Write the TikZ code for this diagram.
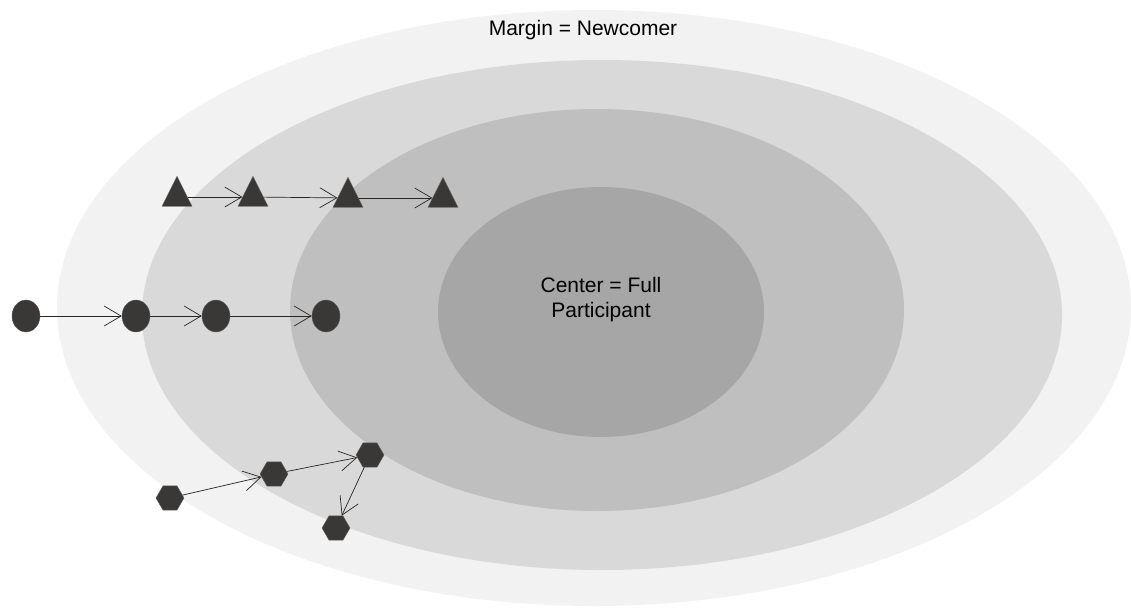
\documentclass[tikz,border=0pt]{standalone}
\usepackage{fontspec}
\setmainfont{Liberation Sans}
\usepackage{tikz}
\usetikzlibrary{arrows.meta,positioning,shapes.geometric}
\definecolor{ringmargin}{RGB}{242,242,242}
\definecolor{ringouter}{RGB}{217,217,217}
\definecolor{ringinner}{RGB}{191,191,191}
\definecolor{ringcenter}{RGB}{166,166,166}
\definecolor{member}{RGB}{58,56,54}

\begin{document}
\begin{tikzpicture}[x=1pt,y=-1pt,
  ring/.style={ellipse,draw=none,inner sep=0pt},
  label/.style={font=\fontsize{21}{25}\selectfont,align=center,text=black},
  tri/.style={isosceles triangle,isosceles triangle stretches,shape border rotate=90,
    minimum width=30pt,minimum height=30pt,inner sep=0pt,fill=member,draw=member!80},
  dot/.style={ellipse,minimum width=28pt,minimum height=32pt,inner sep=0pt,fill=member,draw=member!80},
  hex/.style={regular polygon,regular polygon sides=6,minimum size=28pt,inner sep=0pt,fill=member,draw=member!80},
  arrow/.style={-{Straight Barb[length=17pt,width=20pt]},line width=0.7pt,black!85}
]
\useasboundingbox (0,0) rectangle (1131,608);
% nested rings
\node[ring,fill=ringmargin,minimum width=1074pt,minimum height=596pt] (margin) at (594,308) {};
\node[ring,fill=ringouter,minimum width=920pt,minimum height=510pt] (outer) at (602,315) {};
\node[ring,fill=ringinner,minimum width=614pt,minimum height=402pt] (inner) at (597,310) {};
\node[ring,fill=ringcenter,minimum width=326pt,minimum height=250pt] (center) at (601,312) {};
\node[label] (marginlabel) at (583,30) {Margin = Newcomer};
\node[label] (centerlabel) at (601,300) {Center = Full\\Participant};
% triangles
\node[tri] (t1) at (177,197) {};
\node[tri] (t2) at (253,197) {};
\node[tri] (t3) at (348,198) {};
\node[tri] (t4) at (443,198) {};
% circles
\node[dot] (c1) at (26,316) {};
\node[dot] (c2) at (136,316) {};
\node[dot] (c3) at (216,316) {};
\node[dot] (c4) at (326,316) {};
% hexagons
\node[hex] (h1) at (170,498) {};
\node[hex] (h2) at (274,474) {};
\node[hex] (h3) at (370,455) {};
\node[hex] (h4) at (336,528) {};
\draw[arrow] (t1) -- (t2);
\draw[arrow] (t2) -- (t3);
\draw[arrow] (t3) -- (t4);
\draw[arrow] (c1) -- (c2);
\draw[arrow] (c2) -- (c3);
\draw[arrow] (c3) -- (c4);
\draw[arrow] (h1) -- (h2);
\draw[arrow] (h2) -- (h3);
\draw[arrow] (h3) -- (h4);
\end{tikzpicture}
\end{document}
